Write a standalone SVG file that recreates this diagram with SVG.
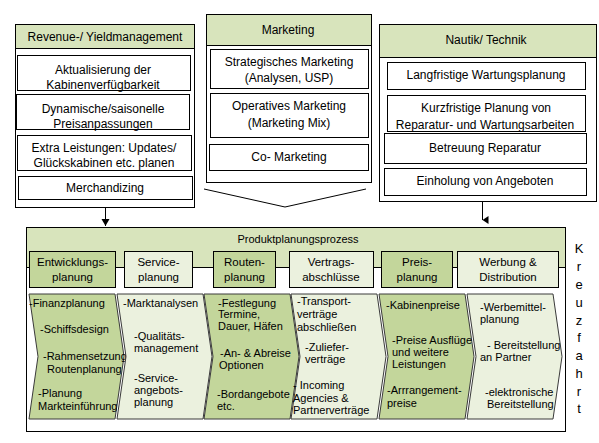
<svg xmlns="http://www.w3.org/2000/svg" width="599" height="443" viewBox="0 0 599 443">
<defs>
<style>
text{font-family:"Liberation Sans",Arial,sans-serif;fill:#000}
.t12{font-size:12px;text-anchor:middle}
.t11{font-size:11px}
.h11{font-size:11.5px;text-anchor:middle}
.box{fill:#fff;stroke:#000;stroke-width:1}
.hdr{fill:#d8e4bc;stroke:#000;stroke-width:1}
.dk{fill:#c3d69b;stroke:#3a3a3a;stroke-width:1}
.lt{fill:#ebf1de;stroke:#3a3a3a;stroke-width:1}
.hdk{fill:#c3d69b;stroke:#000;stroke-width:1}
.hlt{fill:#ebf1de;stroke:#000;stroke-width:1}
.ln{fill:none;stroke:#000;stroke-width:1}
.kz{font-size:13px;text-anchor:middle}
</style>
<marker id="ah" markerWidth="8" markerHeight="8" refX="4" refY="7" orient="auto" markerUnits="userSpaceOnUse" viewBox="0 0 8 8">
<path d="M0,1 L8,1 L4,7 Z" fill="#000"/>
</marker>
</defs>
<rect width="599" height="443" fill="#fff"/>

<g id="revenue">
<rect class="box" x="15.5" y="24.5" width="179" height="183"/>
<rect class="hdr" x="15.5" y="24.5" width="179" height="24"/>
<text class="t12" x="105" y="41">Revenue-/ Yieldmanagement</text>
<rect class="box" x="17.5" y="55.5" width="173" height="35"/>
<text class="t12" x="103" y="74">Aktualisierung der</text>
<text class="t12" x="103" y="89">Kabinenverfügbarkeit</text>
<rect class="box" x="16.5" y="94.5" width="173" height="35"/>
<text class="t12" x="103" y="113">Dynamische/saisonelle</text>
<text class="t12" x="103" y="128">Preisanpassungen</text>
<rect class="box" x="17.5" y="135.5" width="174" height="35"/>
<text class="t12" x="104" y="152">Extra Leistungen: Updates/</text>
<text class="t12" x="104" y="167">Glückskabinen etc. planen</text>
<rect class="box" x="18.5" y="176.5" width="174" height="23"/>
<text class="t12" x="105" y="192">Merchandizing</text>
</g>

<g id="marketing">
<rect class="box" x="206.5" y="14.5" width="165" height="168"/>
<rect class="hdr" x="206.5" y="14.5" width="165" height="31"/>
<text class="t12" x="288" y="34">Marketing</text>
<rect class="box" x="210.5" y="49.5" width="158" height="39"/>
<text class="t12" x="289" y="66">Strategisches Marketing</text>
<text class="t12" x="289" y="82">(Analysen, USP)</text>
<rect class="box" x="210.5" y="93.5" width="158" height="44"/>
<text class="t12" x="289" y="110">Operatives Marketing</text>
<text class="t12" x="289" y="127">(Marketing Mix)</text>
<rect class="box" x="209.5" y="144.5" width="159" height="26"/>
<text class="t12" x="289" y="161">Co- Marketing</text>
</g>

<g id="nautik">
<rect class="box" x="379.5" y="24.5" width="217" height="177"/>
<rect class="hdr" x="379.5" y="24.5" width="217" height="33"/>
<text class="t12" x="486" y="44">Nautik/ Technik</text>
<rect class="box" x="387.5" y="62.5" width="198" height="27"/>
<text class="t12" x="486" y="79">Langfristige Wartungsplanung</text>
<rect class="box" x="387.5" y="95.5" width="198" height="36"/>
<text class="t12" x="486" y="112">Kurzfristige Planung von</text>
<text class="t12" x="485" y="129">Reparatur- und Wartungsarbeiten</text>
<rect class="box" x="384.5" y="133.5" width="202" height="30"/>
<text class="t12" x="485" y="152">Betreuung Reparatur</text>
<rect class="box" x="384.5" y="168.5" width="202" height="27"/>
<text class="t12" x="485" y="185">Einholung von Angeboten</text>
</g>

<g id="connectors">
<line class="ln" x1="105.5" y1="207.5" x2="105.5" y2="226"/>
<line class="ln" x1="482.5" y1="201.5" x2="482.5" y2="220" marker-end="url(#ah)"/>
<path d="M101.5,219 L109.5,219 L105.5,226 Z" fill="#000"/>
<polyline class="ln" points="204,189 285,207 366,189"/>
</g>

<g id="prozess">
<rect class="box" x="26.5" y="227.5" width="539" height="204"/>
<rect class="hdr" x="26.5" y="227.5" width="539" height="40"/>
<text class="t11" x="298" y="243" text-anchor="middle">Produktplanungsprozess</text>
</g>

<g id="kopf-entwicklung">
<rect class="hdk" x="29.5" y="251.5" width="86" height="36"/>
<text class="h11" x="72.5" y="266">Entwicklungs-</text>
<text class="h11" x="72.5" y="281">planung</text>
</g>
<g id="kopf-service">
<rect class="hlt" x="124.5" y="251.5" width="68" height="36"/>
<text class="h11" x="158.5" y="266">Service-</text>
<text class="h11" x="158.5" y="281">planung</text>
</g>
<g id="kopf-routen">
<rect class="hdk" x="213.5" y="251.5" width="62" height="36"/>
<text class="h11" x="244.5" y="266">Routen-</text>
<text class="h11" x="244.5" y="281">planung</text>
</g>
<g id="kopf-vertrag">
<rect class="hlt" x="289.5" y="251.5" width="84" height="36"/>
<text class="h11" x="331" y="266">Vertrags-</text>
<text class="h11" x="331" y="281">abschlüsse</text>
</g>
<g id="kopf-preis">
<rect class="hdk" x="381.5" y="251.5" width="71" height="36"/>
<text class="h11" x="417" y="266">Preis-</text>
<text class="h11" x="417" y="281">planung</text>
</g>
<g id="kopf-werbung">
<rect class="hlt" x="457.5" y="251.5" width="101" height="36"/>
<text class="h11" x="508" y="266">Werbung &amp;</text>
<text class="h11" x="508" y="281">Distribution</text>
</g>

<g id="chevron-1">
<polygon class="dk" points="29,294 115,294 124,356.5 115,419 29,419 38,356.5"/>
<text class="t11" x="29" y="307">-Finanzplanung</text>
<text class="t11" x="40" y="333">-Schiffsdesign</text>
<text class="t11" x="43" y="360">-Rahmensetzung</text>
<text class="t11" x="47" y="373">Routenplanung</text>
<text class="t11" x="38" y="397">-Planung</text>
<text class="t11" x="38" y="410">Markteinführung</text>
</g>
<g id="chevron-2">
<polygon class="lt" points="117,294 203,294 212,356.5 203,419 117,419 126,356.5"/>
<text class="t11" x="123" y="307">-Marktanalysen</text>
<text class="t11" x="134" y="340">-Qualitäts-</text>
<text class="t11" x="134" y="352">management</text>
<text class="t11" x="134" y="382">-Service-</text>
<text class="t11" x="134" y="394">angebots-</text>
<text class="t11" x="134" y="406">planung</text>
</g>
<g id="chevron-3">
<polygon class="dk" points="204,294 290,294 299,356.5 290,419 204,419 213,356.5"/>
<text class="t11" x="218" y="307">-Festlegung</text>
<text class="t11" x="218" y="318">Termine,</text>
<text class="t11" x="218" y="330">Dauer, Häfen</text>
<text class="t11" x="220" y="357">-An- &amp; Abreise</text>
<text class="t11" x="219" y="369">Optionen</text>
<text class="t11" x="217" y="398">-Bordangebote</text>
<text class="t11" x="217" y="410">etc.</text>
</g>
<g id="chevron-4">
<polygon class="lt" points="291,294 377,294 386,356.5 377,419 291,419 300,356.5"/>
<text class="t11" x="297" y="305">-Transport-</text>
<text class="t11" x="297" y="318">verträge</text>
<text class="t11" x="297" y="331">abschließen</text>
<text class="t11" x="305" y="351">-Zuliefer-</text>
<text class="t11" x="305" y="363">verträge</text>
<text class="t11" x="293" y="389">- Incoming</text>
<text class="t11" x="293" y="402">Agencies &amp;</text>
<text class="t11" x="293" y="414">Partnerverträge</text>
</g>
<g id="chevron-5">
<polygon class="dk" points="379,294 465,294 474,356.5 465,419 379,419 388,356.5"/>
<text class="t11" x="386" y="309">-Kabinenpreise</text>
<text class="t11" x="392" y="344">-Preise Ausflüge</text>
<text class="t11" x="392" y="356">und weitere</text>
<text class="t11" x="392" y="368">Leistungen</text>
<text class="t11" x="387" y="394">-Arrrangement-</text>
<text class="t11" x="387" y="407">preise</text>
</g>
<g id="chevron-6">
<polygon class="lt" points="467,294 553,294 562,356.5 553,419 467,419 476,356.5"/>
<text class="t11" x="480" y="311">-Werbemittel-</text>
<text class="t11" x="480" y="323">planung</text>
<text class="t11" x="487" y="349">- Bereitstellung</text>
<text class="t11" x="480" y="361">an Partner</text>
<text class="t11" x="485" y="396">-elektronische</text>
<text class="t11" x="487" y="408">Bereitstellung</text>
</g>

<g id="kreuzfahrt">
<text class="kz" x="579" y="253">K</text>
<text class="kz" x="579" y="271">r</text>
<text class="kz" x="579" y="289">e</text>
<text class="kz" x="579" y="307">u</text>
<text class="kz" x="579" y="325">z</text>
<text class="kz" x="579" y="342">f</text>
<text class="kz" x="579" y="360">a</text>
<text class="kz" x="579" y="378">h</text>
<text class="kz" x="579" y="396">r</text>
<text class="kz" x="579" y="413">t</text>
</g>
</svg>
